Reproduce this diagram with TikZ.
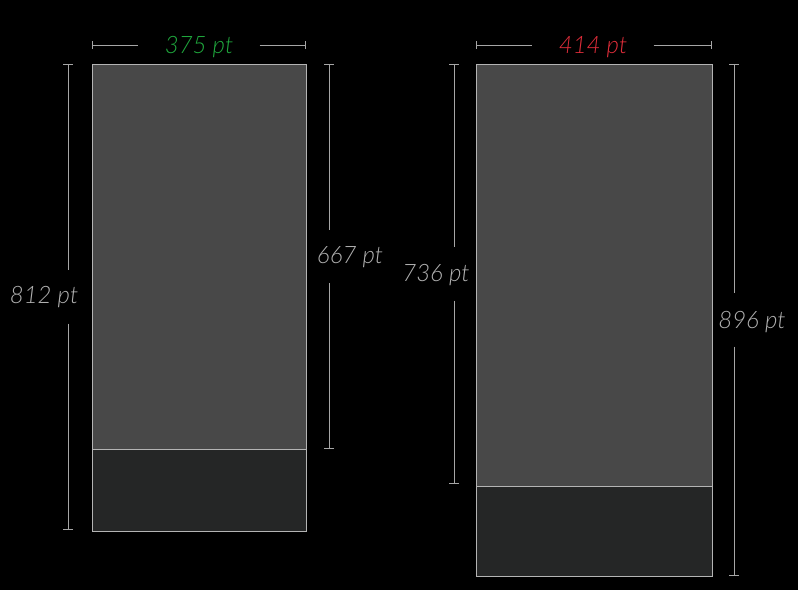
\documentclass[tikz,border=0pt]{standalone}
\usepackage{fontspec}
\newfontfamily\dimfont{Lato Light Italic}
\usetikzlibrary{arrows.meta}
\definecolor{screengray}{HTML}{484848}
\definecolor{bargray}{HTML}{252626}
\definecolor{edgegray}{HTML}{B4B4B4}
\definecolor{dimgray}{HTML}{A6A6A6}
\definecolor{textgray}{HTML}{B0B0B0}
\definecolor{fitgreen}{HTML}{1FA83D}
\definecolor{fitred}{HTML}{E02D3A}
\begin{document}
\begin{tikzpicture}[x=1pt,y=-1pt,
  area/.style={draw=edgegray,line width=1pt,anchor=north west,inner sep=0pt,outer sep=0pt},
  dimline/.style={draw=dimgray,line width=1pt},
  hgap/.style={minimum width=121pt,inner sep=0pt},
  vgap/.style={minimum height=53pt,inner sep=0pt},
  dimlabel/.style={font=\dimfont\fontsize{24}{24}\selectfont,text=textgray,anchor=base,inner sep=0pt}]
\fill[black] (0,0) rectangle (798,590);
\useasboundingbox (0,0) rectangle (798,590);

% 375 x 812
\node[area,fill=screengray,minimum width=214pt,minimum height=385pt] (smallscreen) at (92,64) {};
\node[area,fill=bargray,minimum width=214pt,minimum height=82pt] (smallbar) at (92,449) {};
% 414 x 896
\node[area,fill=screengray,minimum width=236pt,minimum height=422pt] (bigscreen) at (476,64) {};
\node[area,fill=bargray,minimum width=236pt,minimum height=90pt] (bigbar) at (476,486) {};

% widths
\coordinate (w1a) at (92,45);
\coordinate (w1b) at (306,45);
\node[hgap] (w1gap) at (199,45) {};
\draw[dimline,{Bar[width=8pt]}-] (w1a) -- (w1gap.west);
\draw[dimline,-{Bar[width=8pt]}] (w1gap.east) -- (w1b);
\node[dimlabel,text=fitgreen] (w1) at (199,53) {375 pt};

\coordinate (w2a) at (476,45);
\coordinate (w2b) at (712,45);
\node[hgap] (w2gap) at (593,45) {};
\draw[dimline,{Bar[width=8pt]}-] (w2a) -- (w2gap.west);
\draw[dimline,-{Bar[width=8pt]}] (w2gap.east) -- (w2b);
\node[dimlabel,text=fitred] (w2) at (593,53) {414 pt};

% heights
\coordinate (h1a) at (68,64);
\coordinate (h1b) at (68,530);
\node[vgap] (h1gap) at (68,297) {};
\draw[dimline,{Bar[width=10pt]}-] (h1a) -- (h1gap.north);
\draw[dimline,-{Bar[width=10pt]}] (h1gap.south) -- (h1b);
\node[dimlabel] (h1) at (44,303) {812 pt};

\coordinate (h2a) at (329,64);
\coordinate (h2b) at (329,449);
\node[vgap] (h2gap) at (329,256.5) {};
\draw[dimline,{Bar[width=10pt]}-] (h2a) -- (h2gap.north);
\draw[dimline,-{Bar[width=10pt]}] (h2gap.south) -- (h2b);
\node[dimlabel] (h2) at (350,263) {667 pt};

\coordinate (h3a) at (454,64);
\coordinate (h3b) at (454,484);
\node[vgap] (h3gap) at (454,274) {};
\draw[dimline,{Bar[width=10pt]}-] (h3a) -- (h3gap.north);
\draw[dimline,-{Bar[width=10pt]}] (h3gap.south) -- (h3b);
\node[dimlabel] (h3) at (436,281) {736 pt};

\coordinate (h4a) at (734,64);
\coordinate (h4b) at (734,576);
\node[vgap] (h4gap) at (734,320) {};
\draw[dimline,{Bar[width=10pt]}-] (h4a) -- (h4gap.north);
\draw[dimline,-{Bar[width=10pt]}] (h4gap.south) -- (h4b);
\node[dimlabel] (h4) at (752,328) {896 pt};
\end{tikzpicture}
\end{document}
